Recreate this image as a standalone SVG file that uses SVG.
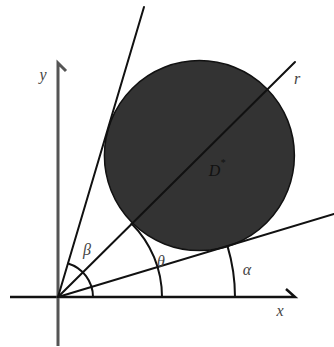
<svg xmlns="http://www.w3.org/2000/svg" width="334" height="347" viewBox="0 0 334 347">
<style>
.ln{stroke:#111;stroke-width:2;fill:none;stroke-linecap:round}
.ax{stroke:#111;stroke-width:2.5;fill:none}
.ay{stroke:#555;stroke-width:3;fill:none}
.lbl{font-family:"Liberation Serif","DejaVu Serif",serif;font-style:italic;font-size:16px;fill:#444;text-anchor:middle;dominant-baseline:central}
</style>
<rect width="334" height="347" fill="#fff"/>
<g id="disk">
<circle cx="199.4" cy="155.6" r="95" fill="#333" stroke="#111" stroke-width="1.5"/>
<text class="lbl" x="217" y="170" style="fill:#111">D<tspan font-size="10" dy="-8">*</tspan></text>
</g>
<g id="connectors">
<path class="ax" d="M10,297 H295 l-9,-8"/>
<path class="ay" d="M58,346 V63 l8,8"/>
<line class="ln" x1="58" y1="297" x2="144" y2="7"/>
<line class="ln" x1="58" y1="297" x2="334" y2="214"/>
<line class="ln" x1="58" y1="297" x2="295" y2="62"/>
<path class="ln" d="M93,297 A35,35 0 0 0 68.1,263.5"/>
<path class="ln" d="M162,297 A104,104 0 0 0 131.5,223.5"/>
<path class="ln" d="M235,297 A177,177 0 0 0 227.5,246.1"/>
</g>
<g id="labels">
<text class="lbl" x="43" y="74">y</text>
<text class="lbl" x="280" y="310">x</text>
<text class="lbl" x="297" y="78">r</text>
<text class="lbl" x="247" y="269">α</text>
<text class="lbl" x="87" y="249">β</text>
<text class="lbl" x="161" y="261">θ</text>
</g>
</svg>
